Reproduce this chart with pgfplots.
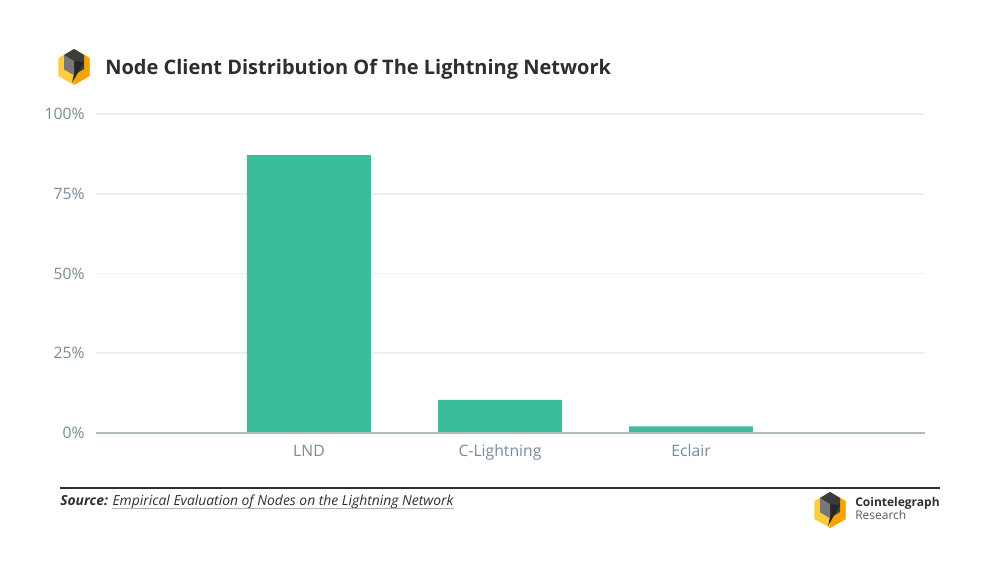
\documentclass[border=0pt]{standalone}
\usepackage{fontspec}
\setmainfont{Open Sans}
\usepackage{pgfplots}
\pgfplotsset{compat=1.18}
\definecolor{barcol}{HTML}{3BBC9A}
\definecolor{gridcol}{HTML}{EFEFEF}
\definecolor{basecol}{HTML}{B0BCBE}
\definecolor{tickcol}{HTML}{7A8A96}
\definecolor{titlecol}{HTML}{2E2E2E}
\definecolor{logoyel}{HTML}{FFCC3D}
\definecolor{logoora}{HTML}{F5A300}
\definecolor{logodark}{HTML}{3C3C3C}
\newcommand{\logo}[2]{%
  \begin{scope}[shift={(#1,#2)}]
    \fill[logoyel] (0,18) -- (15.6,9) -- (15.6,-9) -- (0,-18) -- (-15.6,-9) -- (-15.6,9) -- cycle;
    \fill[logoora] (0,18) -- (15.6,9) -- (15.6,-9) -- (0,-18) -- cycle;
    \fill[logodark] (0,18) -- (10,12) -- (10,-2) -- (0,-8) -- (-10,-2) -- (-10,12) -- cycle;
    \fill[black!85] (10,5) -- (-2,-16) -- (1,-2) -- (-6,0) -- (-6,10) -- (0,6) -- cycle;
    \fill[white!30!logodark] (-10,12) -- (0,6) -- (0,-8) -- (-10,-2) -- cycle;
  \end{scope}}
\begin{document}
\begin{tikzpicture}[x=0.75pt,y=0.75pt]
\path[use as bounding box] (0,0) rectangle (1000,573);
\logo{74}{506}
\node[anchor=mid west, inner sep=0, font=\fontsize{15}{18}\selectfont\bfseries, text=titlecol] at (105,502) {Node Client Distribution Of The Lightning Network};
\begin{axis}[
  at={(72pt,105pt)}, anchor=south west,
  scale only axis, width=621.75pt, height=239.25pt,
  ybar, bar width=0.649,
  xmin=-1.115, xmax=3.225, ymin=0, ymax=100,
  axis line style={draw=none},
  major tick length=0,
  xtick={0,1,2}, xticklabels={LND,C-Lightning,Eclair},
  ytick={0,25,50,75,100},
  yticklabel={\pgfmathprintnumber{\tick}\%},
  /pgf/number format/assume math mode=true,
  ymajorgrids, grid style={draw=gridcol, line width=1.2pt},
  ticklabel style={font=\fontsize{11.8}{14}\selectfont, text=tickcol},
  yticklabel style={xshift=-5pt},
  xticklabel style={yshift=-5.5pt},
  clip=false,
]
\addplot[fill=barcol, draw=none] coordinates {(0,87.1) (1,10.4) (2,2.1)};
\draw[basecol, line width=1.5pt] (rel axis cs:0,0) -- (rel axis cs:1,0);
\end{axis}
\draw[titlecol, line width=0.9pt] (60,85) -- (940,85);
\node[anchor=base west, inner sep=0, font=\fontsize{10.4}{12}\selectfont\itshape\bfseries, text=titlecol] (src) at (60,67) {Source:};
\node[anchor=base west, inner sep=0, font=\fontsize{10.4}{12}\selectfont\itshape, text=titlecol] (lnk) at ([xshift=3pt]src.base east) {Empirical Evaluation of Nodes on the Lightning Network};
\draw[black!30, line width=0.6pt] ([yshift=-2pt]lnk.base west) -- ([yshift=-2pt]lnk.base east);
\logo{830}{63}
\node[anchor=mid west, inner sep=0, font=\fontsize{9}{11}\selectfont\bfseries, text=titlecol] at (855,70) {Cointelegraph};
\node[anchor=mid west, inner sep=0, font=\fontsize{9}{11}\selectfont, text=titlecol!80] at (855,57) {Research};
\end{tikzpicture}
\end{document}
